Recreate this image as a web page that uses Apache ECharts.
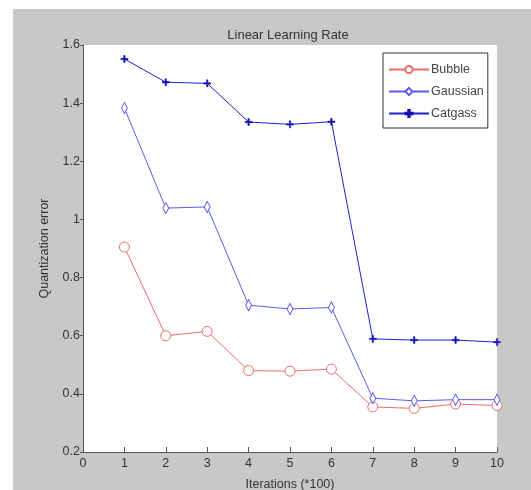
<!DOCTYPE html>
<html><head><meta charset="utf-8">
<script src="https://cdn.jsdelivr.net/npm/echarts@6/dist/echarts.min.js"></script>
<style>html,body{margin:0;padding:0;background:#fff}#c{width:531px;height:490px}</style>
</head><body><div id="c"></div>
<script>
var iterations = [1,2,3,4,5,6,7,8,9,10];
var bubble   = [0.905,0.600,0.615,0.480,0.478,0.485,0.355,0.350,0.365,0.360];
var gaussian = [1.383,1.039,1.043,0.705,0.692,0.697,0.385,0.376,0.380,0.380];
var catgass  = [1.552,1.472,1.468,1.335,1.327,1.336,0.589,0.585,0.585,0.578];
var xTicks = [0,1,2,3,4,5,6,7,8,9,10];
var yTicks = ['0.2','0.4','0.6','0.8','1','1.2','1.4','1.6'];

function pairs(v){ return iterations.map(function(x,i){ return [x, v[i]]; }); }
var plusPath = 'path://M4,0 L6,0 L6,4 L10,4 L10,6 L6,6 L6,10 L4,10 L4,6 L0,6 L0,4 L4,4 Z';
var font = 'Liberation Sans, Arial, sans-serif';

var chart = echarts.init(document.getElementById('c'));
chart.setOption({
  backgroundColor: '#ffffff',
  animation: false,
  graphic: [{type:'rect', z:-10, silent:true, shape:{x:13,y:9,width:518,height:481}, style:{fill:'#c8c8c8'}}],
  title: {text:'Linear Learning Rate', left:283, top:24, textAlign:'center',
          textStyle:{fontFamily:font, fontSize:13, fontWeight:'normal', color:'#333'}},
  grid: {left:83, top:45, width:414, height:407, show:true, backgroundColor:'#ffffff', borderWidth:0,
         containLabel:false, outerBoundsMode:'none'},
  legend: {left:383, top:53, orient:'vertical', backgroundColor:'#ffffff', borderColor:'#333', borderWidth:1,
           padding:[10,4,8,5], itemGap:9, itemWidth:40, itemHeight:9,
           textStyle:{fontFamily:font, fontSize:12.5, color:'#444', padding:[0,0,0,-3]},
           data:['Bubble','Gaussian','Catgass']},
  xAxis: {type:'value', min:0, max:10, interval:1,
          name:'Iterations (*100)', nameLocation:'middle', nameGap:26,
          nameTextStyle:{fontFamily:font, fontSize:12.5, color:'#333'},
          axisLine:{lineStyle:{color:'#555', width:1}},
          axisTick:{inside:true, length:5, lineStyle:{color:'#555'}},
          axisLabel:{fontFamily:font, fontSize:12.5, color:'#333', margin:5,
                     formatter:function(v){ return xTicks.indexOf(v)>=0 ? String(v) : ''; }},
          splitLine:{show:false}},
  yAxis: {type:'value', min:0.2, max:1.6, interval:0.2,
          name:'Quantization error', nameLocation:'middle', nameGap:32, nameRotate:90,
          nameTextStyle:{fontFamily:font, fontSize:12.5, color:'#333'},
          axisLine:{show:true, lineStyle:{color:'#555', width:1}},
          axisTick:{show:true, inside:false, length:3, lineStyle:{color:'#555'}},
          axisLabel:{fontFamily:font, fontSize:12.5, color:'#333', margin:3,
                     formatter:function(v){ var s = String(Math.round(v*10)/10); return yTicks.indexOf(s)>=0 ? s : ''; }},
          splitLine:{show:false}},
  series: [
    {name:'Bubble', type:'line', data:pairs(bubble), symbol:'circle', symbolSize:10,
     lineStyle:{color:'#f06a6a', width:1}, itemStyle:{color:'#ffffff', borderColor:'#f06a6a', borderWidth:1}},
    {name:'Gaussian', type:'line', data:pairs(gaussian), symbol:'diamond', symbolSize:[6,11],
     lineStyle:{color:'#5a5aee', width:1}, itemStyle:{color:'#ffffff', borderColor:'#5a5aee', borderWidth:1}},
    {name:'Catgass', type:'line', data:pairs(catgass), symbol:plusPath, symbolSize:7,
     lineStyle:{color:'#2020c8', width:1}, itemStyle:{color:'#1010b0', borderColor:'#1010b0', borderWidth:0.5}}
  ]
});
</script></body></html>
